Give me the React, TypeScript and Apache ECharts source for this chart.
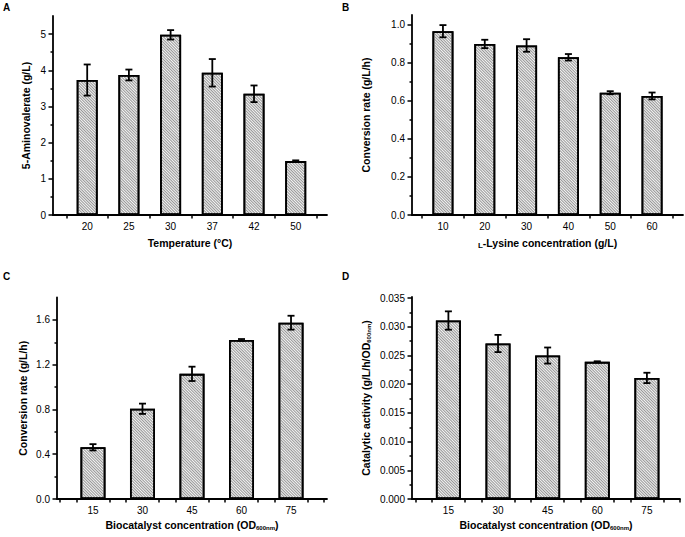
import React, { useEffect, useRef } from 'react';
import * as echarts from 'echarts';

// ---- Data ----
const tempCategories = ['20', '25', '30', '37', '42', '50'];
const tempPositions = [1, 2, 3, 4, 5, 6];
const tempValues = [3.73, 3.87, 4.98, 3.93, 3.35, 1.49];
const tempErrors = [0.43, 0.15, 0.13, 0.38, 0.23, 0.02];

const lysineCategories = [10, 20, 30, 40, 50, 60];
const lysineValues = [0.965, 0.898, 0.89, 0.828, 0.642, 0.625];
const lysineErrors = [0.032, 0.022, 0.033, 0.017, 0.008, 0.018];

const odCategories = [15, 30, 45, 60, 75];
const rateValues = [0.462, 0.806, 1.118, 1.421, 1.575];
const rateErrors = [0.028, 0.046, 0.064, 0.008, 0.062];

const activityValues = [0.0311, 0.0271, 0.025, 0.0239, 0.0211];
const activityErrors = [0.0016, 0.0015, 0.0014, 0.0001, 0.0009];

// tick values
const yMajorA = [0, 1, 2, 3, 4, 5];
const yMinorA = [0.5, 1.5, 2.5, 3.5, 4.5];
const yMajorB = [0, 0.2, 0.4, 0.6, 0.8, 1.0];
const yMinorB = [0.1, 0.3, 0.5, 0.7, 0.9];
const yMajorC = [0, 0.4, 0.8, 1.2, 1.6];
const yMinorC = [0.2, 0.6, 1.0, 1.4];
const yMajorD = [0, 0.005, 0.01, 0.015, 0.02, 0.025, 0.03, 0.035];
const yMinorD = [0.0025, 0.0075, 0.0125, 0.0175, 0.0225, 0.0275, 0.0325];
const xTicksA = [0.5, 1.5, 2.5, 3.5, 4.5, 5.5, 6.5];
const xTicksB = [5, 15, 25, 35, 45, 55, 65];
const xTicksCD = [5, 10, 20, 25, 35, 40, 50, 55, 65, 70, 80, 85];

const FONT = 'Arial, "Liberation Sans", Helvetica, sans-serif';

interface PanelCfg {
  grid: { left: number; top: number; width: number; height: number };
  xMin: number;
  xMax: number;
  xLabelVals: number[];
  xLabelFmt: (v: number) => string;
  xTickVals: number[];
  yMax: number;
  yMajor: number[];
  yMinor: number[];
  yFmt: (v: number) => string;
  xName: string;
  yName: string;
  xNameGap: number;
  yNameGap: number;
  xs: number[];
  ys: number[];
  errs: number[];
  barWidth: number;
}

const rich = {
  s: { fontSize: 6, fontWeight: 'bold', color: '#000', fontFamily: FONT, verticalAlign: 'bottom', lineHeight: 8 },
  sc: { fontSize: 8, fontWeight: 'bold', color: '#000', fontFamily: FONT, verticalAlign: 'bottom', lineHeight: 11 },
};

function buildOption(panels: PanelCfg[]) {
  const grid: any[] = [];
  const xAxis: any[] = [];
  const yAxis: any[] = [];
  const series: any[] = [];
  const axisLine = { show: true, onZero: false, lineStyle: { color: '#000', width: 1.8 } };
  panels.forEach((p, i) => {
    grid.push({ ...p.grid, containLabel: false });
    xAxis.push({
      type: 'value',
      gridIndex: i,
      min: p.xMin,
      max: p.xMax,
      axisLine,
      splitLine: { show: false },
      axisTick: { show: true, inside: false, length: 3.5, customValues: p.xTickVals, lineStyle: { color: '#000', width: 1.5 } },
      axisLabel: { customValues: p.xLabelVals, formatter: p.xLabelFmt, color: '#000', fontSize: 10, fontFamily: FONT, margin: 6 },
      name: p.xName,
      nameLocation: 'middle',
      nameGap: p.xNameGap,
      nameTextStyle: { fontSize: 10.5, fontWeight: 'bold', color: '#000', fontFamily: FONT, lineHeight: 12, rich },
    });
    yAxis.push({
      type: 'value',
      gridIndex: i,
      min: 0,
      max: p.yMax,
      axisLine,
      splitLine: { show: false },
      axisTick: { show: true, inside: false, length: 4.5, customValues: p.yMajor, lineStyle: { color: '#000', width: 1.5 } },
      axisLabel: { customValues: p.yMajor, formatter: p.yFmt, color: '#000', fontSize: 10, fontFamily: FONT, margin: 7 },
      name: p.yName,
      nameLocation: 'middle',
      nameGap: p.yNameGap,
      nameRotate: 90,
      nameTextStyle: { fontSize: 10.5, fontWeight: 'bold', color: '#000', fontFamily: FONT, lineHeight: 12, rich },
    });
    yAxis.push({
      type: 'value',
      gridIndex: i,
      position: 'left',
      offset: 0,
      min: 0,
      max: p.yMax,
      axisLine: { show: false },
      splitLine: { show: false },
      axisTick: { show: true, inside: false, length: 2.5, customValues: p.yMinor, lineStyle: { color: '#000', width: 1.5 } },
      axisLabel: { show: false },
    });
    series.push({
      type: 'bar',
      xAxisIndex: i,
      yAxisIndex: i * 2,
      barWidth: p.barWidth,
      data: p.xs.map((x, k) => [x, p.ys[k]]),
      itemStyle: {
        color: '#f4f4f4',
        borderColor: '#000',
        borderWidth: 1.8,
        decal: {
          symbol: 'rect',
          symbolSize: 1,
          dashArrayX: [1, 0],
          dashArrayY: [1, 1],
          rotation: Math.PI / 4,
          color: '#979797',
        },
      },
      z: 2,
    });
    series.push({
      type: 'custom',
      xAxisIndex: i,
      yAxisIndex: i * 2,
      data: p.xs.map((x, k) => [x, p.ys[k], p.errs[k]]),
      renderItem: (params: any, api: any) => {
        const x = api.value(0);
        const y = api.value(1);
        const e = api.value(2);
        const top = api.coord([x, y + e]);
        const bot = api.coord([x, y - e]);
        const w = 3.5;
        const style = { stroke: '#000', lineWidth: 1.8 };
        return {
          type: 'group',
          children: [
            { type: 'line', shape: { x1: top[0], y1: top[1], x2: bot[0], y2: bot[1] }, style },
            { type: 'line', shape: { x1: top[0] - w, y1: top[1], x2: top[0] + w, y2: top[1] }, style },
            { type: 'line', shape: { x1: bot[0] - w, y1: bot[1], x2: bot[0] + w, y2: bot[1] }, style },
          ],
        };
      },
      z: 10,
    });
  });
  return { grid, xAxis, yAxis, series };
}

export default function App() {
  const ref = useRef<HTMLDivElement>(null);
  useEffect(() => {
    if (!ref.current) return;
    const chart = echarts.init(ref.current, undefined, { renderer: 'svg' });
    const panels: PanelCfg[] = [
      {
        grid: { left: 53, top: 16, width: 274, height: 199 },
        xMin: 0.18, xMax: 6.75,
        xLabelVals: tempPositions,
        xLabelFmt: (v: number) => tempCategories[Math.round(v) - 1] ?? '',
        xTickVals: xTicksA,
        yMax: 5.5, yMajor: yMajorA, yMinor: yMinorA,
        yFmt: (v: number) => String(Math.round(v)),
        xName: 'Temperature (°C)',
        yName: '5-Aminovalerate (g/L)',
        xNameGap: 22, yNameGap: 21,
        xs: tempPositions, ys: tempValues, errs: tempErrors, barWidth: 21,
      },
      {
        grid: { left: 412, top: 15, width: 271, height: 200 },
        xMin: 2.6, xMax: 67.4,
        xLabelVals: lysineCategories,
        xLabelFmt: (v: number) => String(Math.round(v)),
        xTickVals: xTicksB,
        yMax: 1.05, yMajor: yMajorB, yMinor: yMinorB,
        yFmt: (v: number) => v.toFixed(1),
        xName: '{sc|L}-Lysine concentration (g/L)',
        yName: 'Conversion rate (g/L/h)',
        xNameGap: 22, yNameGap: 40,
        xs: lysineCategories, ys: lysineValues, errs: lysineErrors, barWidth: 21,
      },
      {
        grid: { left: 57, top: 297.5, width: 270, height: 201.5 },
        xMin: 4.1, xMax: 85.9,
        xLabelVals: odCategories,
        xLabelFmt: (v: number) => String(Math.round(v)),
        xTickVals: xTicksCD,
        yMax: 1.8, yMajor: yMajorC, yMinor: yMinorC,
        yFmt: (v: number) => v.toFixed(1),
        xName: 'Biocatalyst concentration (OD{s|600nm})',
        yName: 'Conversion rate (g/L/h)',
        xNameGap: 20, yNameGap: 28,
        xs: odCategories, ys: rateValues, errs: rateErrors, barWidth: 25,
      },
      {
        grid: { left: 412, top: 297, width: 268, height: 202 },
        xMin: 4, xMax: 85,
        xLabelVals: odCategories,
        xLabelFmt: (v: number) => String(Math.round(v)),
        xTickVals: xTicksCD,
        yMax: 0.0352, yMajor: yMajorD, yMinor: yMinorD,
        yFmt: (v: number) => v.toFixed(3),
        xName: 'Biocatalyst concentration (OD{s|600nm})',
        yName: 'Catalytic activity (g/L/h/OD{s|600nm})',
        xNameGap: 20, yNameGap: 40,
        xs: odCategories, ys: activityValues, errs: activityErrors, barWidth: 25,
      },
    ];
    const base = buildOption(panels);
    const letterStyle = { fontSize: 10, fontWeight: 'bold', fill: '#000', fontFamily: FONT };
    chart.setOption({
      animation: false,
      backgroundColor: '#ffffff',
      ...base,
      graphic: [
        { type: 'text', left: 3, top: 2, style: { text: 'A', ...letterStyle } },
        { type: 'text', left: 342, top: 2, style: { text: 'B', ...letterStyle } },
        { type: 'text', left: 3, top: 271, style: { text: 'C', ...letterStyle } },
        { type: 'text', left: 342, top: 271, style: { text: 'D', ...letterStyle } },
      ],
    });
    return () => chart.dispose();
  }, []);
  return (
    <div
      ref={ref}
      style={{ position: 'fixed', left: 0, top: 0, width: 685, height: 537, background: '#fff' }}
    />
  );
}
